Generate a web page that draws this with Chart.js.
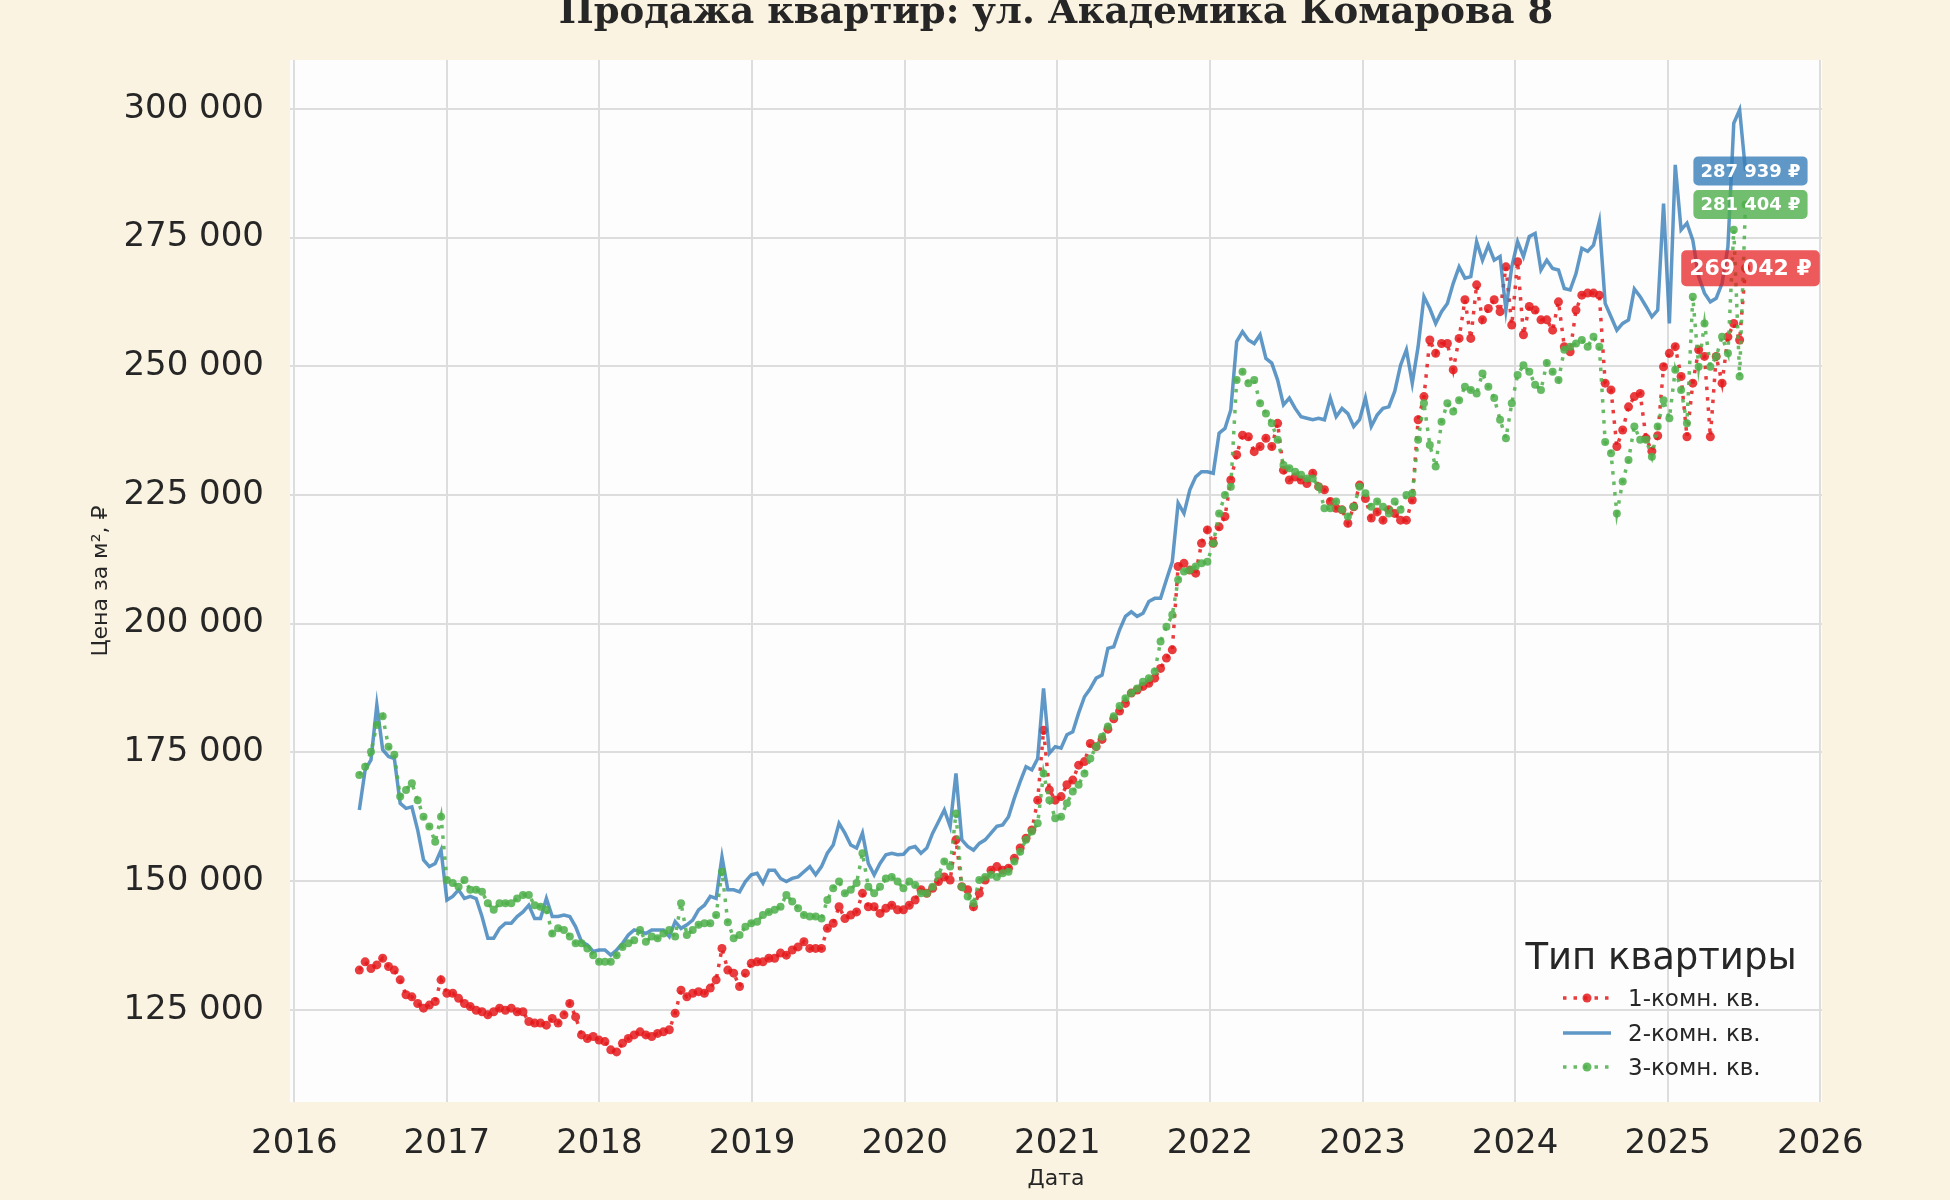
<!DOCTYPE html>
<html>
<head>
<meta charset="utf-8">
<title>Продажа квартир: ул. Академика Комарова 8</title>
<script src="https://cdn.jsdelivr.net/npm/chart.js@4.4.1/dist/chart.umd.min.js"></script>
<style>
  html, body { margin: 0; padding: 0; background: #faf3e1; }
  #wrap { width: 1950px; height: 1200px; }
</style>
</head>
<body>
<div id="wrap"><canvas id="chart" width="1950" height="1200"></canvas></div>
<script>
// sampling grid: one reading every 14 days starting 2016-06-05
const firstDate = '2016-06-05';
const stepDays = 14;

const yearTicks = [2016, 2017, 2018, 2019, 2020, 2021, 2022, 2023, 2024, 2025, 2026];
const priceTicks = [125000, 150000, 175000, 200000, 225000, 250000, 275000, 300000];

const seriesNames = ['1-комн. кв.', '2-комн. кв.', '3-комн. кв.'];

const oneRoom = [
  132700, 134300, 133000, 133700, 135000, 133400, 132700, 130800, 127900, 127500,
  126200, 125300, 125900, 126600, 130800, 128200, 128200, 127200, 126200, 125600,
  124900, 124600, 124000, 124600, 125300, 124900, 125300, 124600, 124600, 122700,
  122400, 122400, 122000, 123300, 122400, 124000, 126200, 123600, 120100, 119400,
  119800, 119100, 118800, 117200, 116800, 118500, 119400, 120100, 120700, 120100,
  119800, 120400, 120700, 121100, 124300, 128800, 127500, 128200, 128500, 128200,
  129200, 130800, 136900, 132700, 132100, 129500, 132100, 134000, 134300, 134300,
  135000, 135000, 136000, 135600, 136600, 137200, 138200, 136900, 136900, 136900,
  140800, 141800, 145000, 142700, 143400, 144000, 147600, 145000, 145000, 143700,
  144700, 145300, 144400, 144400, 145300, 146300, 148300, 147600, 148600, 149900,
  150800, 150200, 158000, 148900, 148300, 145000, 147600, 150200, 152100, 152800,
  152100, 152500, 154400, 156400, 158300, 159900, 165700, 179300, 167700, 165700,
  166400, 168700, 169600, 172500, 173200, 176700, 176100, 177500, 179500, 181500,
  183000, 184500, 186500, 187100, 187800, 188400, 189400, 191300, 193300, 194900,
  211100, 211700, 210400, 209800, 215600, 218200, 215600, 218800, 220800, 227900,
  232800, 236600, 236300, 233400, 234400, 236000, 234400, 238900, 229800, 227900,
  228500, 227900, 227200, 229200, 226600, 226000, 223700, 222400, 222100, 219500,
  222700, 226900, 224300, 220500, 221700, 220100, 222100, 221400, 220100, 220100,
  224000, 239600, 244100, 255100, 252500, 254400, 254400, 249300, 255400, 262900,
  255400, 265800, 259000, 261200, 262900, 260600, 269300, 258000, 270300, 256100,
  261600, 260900, 259000, 259000, 257000, 262500, 253800, 252800, 260900, 263800,
  264200, 264200, 263800, 246700, 245400, 234400, 237600, 242100, 244100, 244700,
  236000, 233500, 236500, 249900, 252500, 253800, 248000, 236300, 246700, 253200,
  251900, 236300, 251900, 246700, 255700, 258300, 255100, 269042
];

const twoRoom = [
  163800, 171600, 173500, 184200, 175500, 174200, 173800, 165100, 164100, 164400,
  159900, 154100, 152800, 153400, 156000, 146300, 147000, 148300, 146600, 147000,
  146600, 143100, 138900, 138900, 140800, 141800, 141800, 143100, 144000, 145300,
  142700, 142700, 146600, 143100, 143100, 143400, 143100, 141100, 138200, 137600,
  136300, 136600, 136600, 135600, 136600, 137900, 139500, 140500, 140200, 139800,
  140500, 140500, 140500, 139200, 142100, 140800, 141500, 142400, 144400, 145300,
  147000, 146600, 154700, 148300, 148300, 147900, 149900, 151200, 151500, 149600,
  152100, 152100, 150500, 149900, 150500, 150800, 151800, 152800, 151200, 152800,
  155400, 157000, 161200, 159300, 157000, 156400, 159300, 153400, 151200, 153400,
  155100, 155400, 155100, 155200, 156400, 156700, 155400, 156400, 159300, 161500,
  163800, 160600, 170900, 158000, 156700, 156000, 157300, 158000, 159300, 160600,
  160900, 162500, 166100, 169300, 172200, 171600, 173800, 187400, 174800, 176100,
  175800, 178400, 179000, 182600, 185800, 187400, 189400, 190000, 195200, 195500,
  198800, 201400, 202300, 201400, 202000, 204300, 204900, 204900, 208500, 212000,
  223400, 221400, 226000, 228500, 229500, 229500, 229200, 237000, 237900, 241500,
  254800, 256700, 255100, 254400, 256100, 251500, 250600, 247300, 242500, 243800,
  241800, 240200, 239900, 239600, 239900, 239600, 243800, 240200, 241800, 240800,
  238300, 239600, 243800, 238300, 240500, 241800, 242100, 245100, 250200, 253200,
  246700, 253800, 263500, 261200, 258300, 260600, 262200, 266100, 269300, 267100,
  267400, 274200, 270600, 273500, 270600, 271300, 260900, 269300, 274200, 271300,
  275200, 275800, 268700, 270600, 269000, 268700, 265100, 264800, 268000, 272900,
  272300, 273500, 278100, 262200, 259600, 257000, 258300, 259000, 265000, 263500,
  261600, 259600, 260900, 281600, 258300, 289100, 276500, 277800, 274500, 267400,
  264200, 262500, 263200, 266100, 273200, 297200, 299800, 287939
];

const threeRoom = [
  170600, 172200, 175100, 180300, 182000, 176100, 174500, 166400, 167700, 169000,
  165700, 162500, 160600, 157600, 162500, 150200, 149600, 148900, 150200, 148300,
  148300, 147900, 145700, 144400, 145700, 145700, 145700, 146600, 147300, 147300,
  145300, 145000, 144400, 139800, 140800, 140500, 139200, 137900, 137900, 136900,
  135600, 134300, 134300, 134300, 135600, 137200, 137900, 138500, 140500, 138200,
  139200, 138900, 139800, 140500, 139200, 145700, 139500, 140500, 141500, 141800,
  141800, 143400, 151800, 142000, 138900, 139500, 141100, 141800, 142100, 143400,
  144000, 144400, 145000, 147300, 146000, 144700, 143400, 143100, 143100, 142700,
  146300, 148600, 149900, 147600, 148300, 149600, 155400, 148900, 147600, 148900,
  150500, 150800, 149900, 148600, 149900, 149200, 147600, 147600, 148900, 151200,
  153800, 152800, 163100, 148900, 147000, 145700, 150200, 150800, 151200, 150800,
  151500, 151800, 153800, 155700, 158000, 159600, 161200, 170900, 165700, 162200,
  162500, 165100, 167400, 168700, 170900, 173800, 176100, 178000, 180000, 182000,
  184000, 185500, 186500, 187400, 188700, 189400, 190700, 196500, 199400, 201700,
  208500, 210100, 210400, 211100, 211700, 212000, 215600, 221400, 225000, 226600,
  247300, 248900, 246700, 247300, 242800, 240800, 238900, 235700, 230800, 230200,
  229500, 228900, 228200, 228200, 226600, 222400, 222400, 223700, 222100, 220800,
  222700, 226600, 225300, 222700, 223700, 222700, 221400, 223700, 222100, 225000,
  225300, 235700, 242800, 234700, 230500, 239200, 242800, 241200, 243400, 246000,
  245400, 244700, 248600, 246000, 243800, 239600, 236000, 242800, 248300, 250200,
  248900, 246400, 245400, 250600, 248900, 247300, 253200, 253800, 254400, 255100,
  253800, 255700, 253800, 235300, 233100, 221400, 227600, 231800, 238300, 235700,
  235700, 232400, 238300, 243400, 239900, 249300, 245400, 238900, 263500, 249900,
  258300, 249900, 251900, 255700, 252500, 276500, 248000, 281404
];

const red = 'rgba(228, 26, 28, 0.85)';
const blue = 'rgba(55, 126, 184, 0.8)';
const green = 'rgba(77, 175, 74, 0.85)';
const ink = '#262626';
const fontFamily = '"DejaVu Sans", sans-serif';

function decimalYear(ms) {
  var d = new Date(ms);
  var y = d.getUTCFullYear();
  var a = Date.UTC(y, 0, 1), b = Date.UTC(y + 1, 0, 1);
  return y + (ms - a) / (b - a);
}

var startMs = Date.parse(firstDate + 'T00:00:00Z');
var dates = oneRoom.map(function (_, i) { return decimalYear(startMs + i * stepDays * 864e5); });

function points(values) {
  return values.map(function (v, i) { return { x: dates[i], y: v }; });
}

function spaced(v) {
  return Math.round(v).toString().replace(/\B(?=(\d{3})+(?!\d))/g, ' ');
}

const paperPlugin = {
  id: 'paper',
  beforeDraw(chart) {
    const { ctx, chartArea: a } = chart;
    ctx.save();
    ctx.fillStyle = '#faf3e1';
    ctx.fillRect(0, 0, chart.width, chart.height);
    ctx.fillStyle = '#fdfdfd';
    ctx.fillRect(a.left, a.top, a.right - a.left, a.bottom - a.top);
    ctx.restore();
  }
};

const titlePlugin = {
  id: 'topTitle',
  afterDraw(chart) {
    const { ctx, chartArea: a } = chart;
    ctx.save();
    ctx.font = 'bold 37px "DejaVu Serif", serif';
    ctx.fillStyle = ink;
    ctx.textAlign = 'center';
    ctx.textBaseline = 'alphabetic';
    ctx.fillText('Продажа квартир: ул. Академика Комарова 8', (a.left + a.right) / 2, 23);
    ctx.restore();
  }
};

// boxes with the last value of each series, at the height of that value
const endLabels = [
  { ds: 1, font: 'bold 18px ' + fontFamily, fill: 'rgba(55, 126, 184, 0.8)', h: 29, padX: 7 },
  { ds: 2, font: 'bold 18px ' + fontFamily, fill: 'rgba(77, 175, 74, 0.8)', h: 29, padX: 7 },
  { ds: 0, font: 'bold 22px ' + fontFamily, fill: 'rgba(228, 26, 28, 0.72)', h: 36, padX: 8 }
];

const endLabelPlugin = {
  id: 'endLabels',
  afterDatasetsDraw(chart) {
    const { ctx } = chart;
    const xs = chart.scales.x, ys = chart.scales.y;
    ctx.save();
    endLabels.forEach(function (l) {
      const data = chart.data.datasets[l.ds].data;
      const last = data[data.length - 1];
      const text = spaced(last.y) + ' ₽';
      ctx.font = l.font;
      const w = ctx.measureText(text).width + l.padX * 2;
      const cx = xs.getPixelForValue(last.x) + 5;
      const cy = ys.getPixelForValue(last.y);
      ctx.fillStyle = l.fill;
      ctx.beginPath();
      ctx.roundRect(cx - w / 2, cy - l.h / 2, w, l.h, 5);
      ctx.fill();
      ctx.fillStyle = '#ffffff';
      ctx.textAlign = 'center';
      ctx.textBaseline = 'middle';
      ctx.fillText(text, cx, cy + 1);
    });
    ctx.restore();
  }
};

const legendPlugin = {
  id: 'innerLegend',
  afterDraw(chart) {
    const { ctx } = chart;
    ctx.save();
    ctx.fillStyle = ink;
    ctx.font = '37px ' + fontFamily;
    ctx.textAlign = 'center';
    ctx.textBaseline = 'alphabetic';
    ctx.fillText('Тип квартиры', 1661, 969);

    const rows = [
      { name: seriesNames[0], color: red, dotted: true, y: 1006 },
      { name: seriesNames[1], color: blue, dotted: false, y: 1041 },
      { name: seriesNames[2], color: green, dotted: true, y: 1075 }
    ];
    rows.forEach(function (r) {
      const ly = r.y - 8;
      ctx.strokeStyle = r.color;
      ctx.lineWidth = 3.5;
      ctx.setLineDash(r.dotted ? [3.5, 7] : []);
      ctx.beginPath();
      ctx.moveTo(1563, ly);
      ctx.lineTo(1611, ly);
      ctx.stroke();
      if (r.dotted) {
        ctx.fillStyle = r.color;
        ctx.beginPath();
        ctx.arc(1587, ly, 4.5, 0, Math.PI * 2);
        ctx.fill();
      }
      ctx.setLineDash([]);
      ctx.fillStyle = ink;
      ctx.font = '23px ' + fontFamily;
      ctx.textAlign = 'left';
      ctx.fillText(r.name, 1628, r.y);
    });
    ctx.restore();
  }
};

Chart.defaults.font.family = fontFamily;
Chart.defaults.color = ink;

const ctx = document.getElementById('chart').getContext('2d');
const chart = new Chart(ctx, {
  type: 'line',
  data: {
    datasets: [
      {
        label: seriesNames[0],
        data: points(oneRoom),
        borderColor: red,
        backgroundColor: red,
        borderWidth: 3.5,
        borderDash: [3.5, 7],
        pointRadius: 4.5,
        pointBorderWidth: 0,
        pointBackgroundColor: red,
        tension: 0,
        order: 3
      },
      {
        label: seriesNames[1],
        data: points(twoRoom),
        borderColor: blue,
        backgroundColor: blue,
        borderWidth: 3.5,
        pointRadius: 0,
        tension: 0,
        order: 2
      },
      {
        label: seriesNames[2],
        data: points(threeRoom),
        borderColor: green,
        backgroundColor: green,
        borderWidth: 3.5,
        borderDash: [3.5, 7],
        pointRadius: 4,
        pointBorderWidth: 0,
        pointBackgroundColor: green,
        tension: 0,
        order: 1
      }
    ]
  },
  options: {
    responsive: false,
    devicePixelRatio: 1,
    animation: false,
    layout: { padding: { top: 60, right: 128, left: 0, bottom: 0 } },
    plugins: {
      legend: { display: false },
      title: { display: false },
      tooltip: { enabled: false }
    },
    scales: {
      x: {
        type: 'linear',
        min: 2015.972,
        max: 2026.011,
        afterBuildTicks: function (s) { s.ticks = yearTicks.map(function (v) { return { value: v }; }); },
        afterFit: function (s) { s.height = 98; },
        grid: { color: '#dddddd', lineWidth: 2, drawTicks: false },
        border: { display: false },
        ticks: {
          color: ink,
          font: { size: 34 },
          padding: 22,
          maxRotation: 0,
          autoSkip: false,
          callback: function (v) { return String(v); }
        },
        title: { display: true, text: 'Дата', color: ink, font: { size: 22 }, padding: { top: 0, bottom: 8 } }
      },
      y: {
        min: 107070,
        max: 309480,
        afterBuildTicks: function (s) { s.ticks = priceTicks.map(function (v) { return { value: v }; }); },
        afterFit: function (s) { s.width = 290; },
        grid: { color: '#dddddd', lineWidth: 2, drawTicks: false },
        border: { display: false },
        ticks: {
          color: ink,
          font: { size: 34 },
          padding: 26,
          autoSkip: false,
          callback: function (v) { return spaced(v); }
        },
        title: { display: true, text: 'Цена за м², ₽', color: ink, font: { size: 22 }, padding: { top: 88, bottom: 0 } }
      }
    }
  },
  plugins: [paperPlugin, endLabelPlugin, titlePlugin, legendPlugin]
});
</script>
</body>
</html>
